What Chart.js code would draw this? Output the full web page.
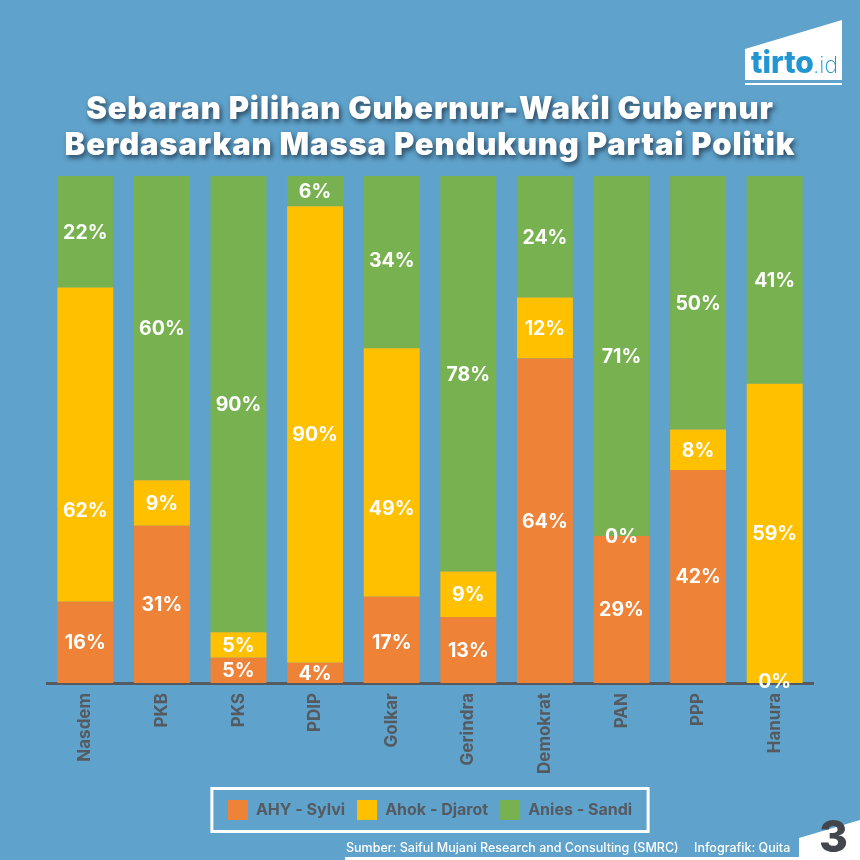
<!DOCTYPE html>
<html><head><meta charset="utf-8">
<style>html,body{margin:0;padding:0;background:#5fa2cb}#w{width:860px;height:860px}</style>
<script src="https://cdn.jsdelivr.net/npm/chart.js@4"></script></head>
<body><div id="w"><canvas id="c" width="860" height="860"></canvas></div>
<script>
const categories=["Nasdem","PKB","PKS","PDIP","Golkar","Gerindra","Demokrat","PAN","PPP","Hanura"];
const ahySylvi=[16,31,5,4,17,13,64,29,42,0];
const ahokDjarot=[62,9,5,90,49,9,12,0,8,59];
const aniesSandi=[22,60,90,6,34,78,24,71,50,41];
const seriesNames=["AHY - Sylvi","Ahok - Djarot","Anies - Sandi"];
const seriesColors=["#ee8237","#ffc000","#78b14f"];
const titleLines=["Sebaran Pilihan Gubernur-Wakil Gubernur","Berdasarkan Massa Pendukung Partai Politik"];
const sourceText="Sumber: Saiful Mujani Research and Consulting (SMRC)";
const creditText="Infografik: Quita";
const pageNumber="3";
const BG="#5fa2cb",GREY="#555a60",F="Inter, sans-serif";
const labelNudge={"1,0":65,"1,4":36,"2,4":-2,"0,4":2};

const decor={id:"decor",
 beforeDraw(ch){const x=ch.ctx;x.save();x.fillStyle=BG;x.fillRect(0,0,860,860);
  x.fillStyle="#fff";
  x.beginPath();x.moveTo(745,49);x.lineTo(842,20);x.lineTo(842,80);x.lineTo(745,80);x.closePath();x.fill();
  x.fillRect(745,83,97,2);
  x.beginPath();x.moveTo(799,838);x.lineTo(860,820);x.lineTo(860,860);x.lineTo(799,860);x.closePath();x.fill();
  x.fillRect(345,857,455,3);
  x.restore();},
 afterLayout(ch){const t=ch.titleBlock;if(t&&!t._sh){t._sh=1;const o=t.draw.bind(t);
   t.draw=function(){const c=ch.ctx;c.save();c.letterSpacing="0.85px";c.shadowColor="rgba(30,50,70,.8)";c.shadowBlur=5;c.shadowOffsetX=2;c.shadowOffsetY=3;o();c.restore();};}},
 afterDraw(ch){const x=ch.ctx;x.save();
  const h=ch.legend.legendHitBoxes;const l=h[0].left,r=h[h.length-1].left+h[h.length-1].width;
  x.strokeStyle="#fff";x.lineWidth=3;x.strokeRect(l-16,788.5,r-l+32,43);
  x.fillStyle="#fff";x.font="700 19.5px "+F;x.textAlign="center";x.textBaseline="middle";
  ch.data.datasets.forEach((d,i)=>{ch.getDatasetMeta(i).data.forEach((b,j)=>{
    const p=b.getProps(["x","y","base"],true);let y=(p.y+p.base)/2+1+(labelNudge[i+","+j]||0);
    if(d.data[j]===0&&i===0)y-=2;
    x.fillText(d.data[j]+"%",p.x,y);});});
  x.textAlign="left";x.textBaseline="alphabetic";x.fillStyle="#2196d3";
  x.font="800 30px "+F;x.fillText("tirto",751,73);
  x.font="200 23px "+F;x.fillText(".id",813,73);
  x.fillStyle="#fff";x.font="500 12.5px "+F;
  x.fillText(sourceText,346,852);x.fillText(creditText,694,852);
  x.fillStyle="#43474c";x.font="800 44px "+F;x.fillText(pageNumber,819,852);
  x.restore();}
};

new Chart(document.getElementById("c"),{type:"bar",
 data:{labels:categories,datasets:[
  {label:seriesNames[0],data:ahySylvi,backgroundColor:seriesColors[0]},
  {label:seriesNames[1],data:ahokDjarot,backgroundColor:seriesColors[1]},
  {label:seriesNames[2],data:aniesSandi,backgroundColor:seriesColors[2]}]},
 options:{responsive:false,animation:false,devicePixelRatio:1,
  layout:{padding:{left:47,right:47,top:0,bottom:30}},
  datasets:{bar:{categoryPercentage:1,barPercentage:0.73,borderWidth:0}},
  scales:{
   x:{stacked:true,grid:{display:false},border:{display:true,color:GREY,width:3},
      afterFit(s){s.height=105;},
      ticks:{minRotation:90,maxRotation:90,autoSkip:false,padding:2,color:GREY,font:{family:F,size:17,weight:"700"}}},
   y:{stacked:true,display:false,min:0,max:100}},
  plugins:{
   tooltip:{enabled:false},
   title:{display:true,text:titleLines,color:"#fff",padding:{top:92,bottom:12},font:{family:F,size:31,weight:"900",lineHeight:1.16}},
   legend:{position:"bottom",labels:{boxWidth:20,boxHeight:20,padding:12,color:GREY,font:{family:F,size:16,weight:"700"}}}
  }},
 plugins:[decor]});
</script></body></html>
